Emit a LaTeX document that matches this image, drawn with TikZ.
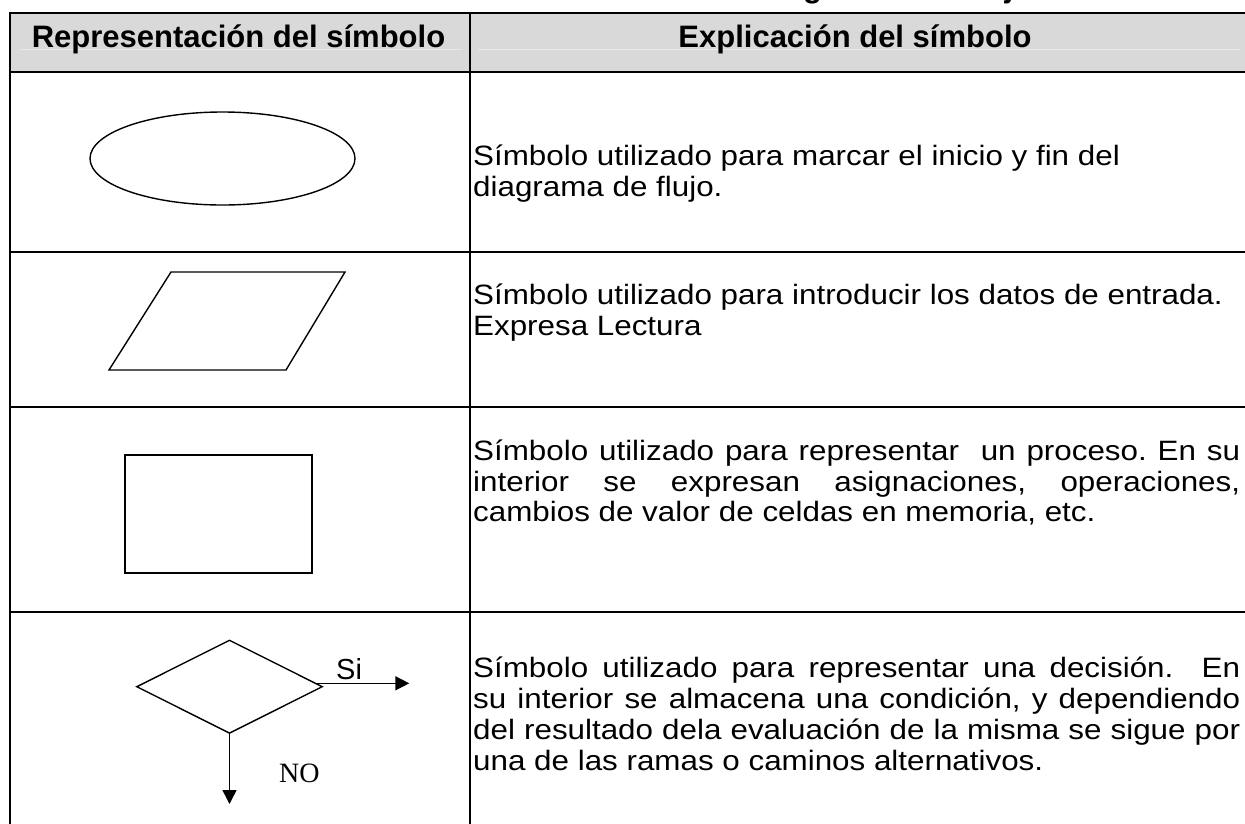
\documentclass[tikz,border=0pt]{standalone}
\usepackage{fontspec}
\setmainfont{Liberation Sans}
\newfontfamily\bodyfont[FakeStretch=1.12]{Liberation Sans}
\newfontfamily\serifnofont{Liberation Serif}
\usetikzlibrary{shapes.geometric,arrows.meta}
\definecolor{hdrgray}{RGB}{217,217,217}
\definecolor{hdrline}{RGB}{232,232,232}
\newlength\jw
\setlength\jw{767pt}
\begin{document}
\frenchspacing
\begin{tikzpicture}[x=1pt,y=-1pt,
  tabline/.style={line width=2.2pt,line cap=rect},
  symb/.style={draw,line width=1.4pt,inner sep=0pt},
  arr/.style={line width=1.4pt,-{Triangle[length=14pt,width=14pt]}},
  body/.style={anchor=north west,inner sep=0pt,align=left,font=\bodyfont\fontsize{28}{30.8}\selectfont},
  head/.style={anchor=base,inner sep=0pt,font=\bfseries\fontsize{31}{36}\selectfont}]
\useasboundingbox (0,0) rectangle (1245,823);
% header background
\fill[hdrgray] (10,13) rectangle (1245,72);
\draw[hdrline,line width=1pt] (20,49) -- (462,49);
\draw[hdrline,line width=1pt] (478,49) -- (1240,49);
% title cut off at the top edge (only descenders visible)
\node[anchor=base west,inner sep=0pt,font=\bfseries\fontsize{31}{36}\selectfont] (title) at (758,-2.5) {diagramas de flujo};
% table rules
\foreach \yy in {13,72,252,407,612} \draw[tabline] (10,\yy) -- (1245,\yy);
\draw[tabline] (10,13) -- (10,823);
\draw[tabline] (470,13) -- (470,823);
% headers
\node[head] (h1) at (238.5,47) {Representación del símbolo};
\node[head] (h2) at (855,47) {Explicación del símbolo};
% symbols
\node[symb,ellipse,minimum width=265pt,minimum height=93pt] (term) at (222.5,158.5) {};
\draw[symb] (171,272) -- (345,272) -- (286,370) -- (109,370) -- cycle;
\node[symb,rectangle,minimum width=187pt,minimum height=118pt] (proc) at (218.5,514) {};
\node[symb,diamond,minimum width=186pt,minimum height=93.4pt] (dec) at (229.5,686.7) {};
\coordinate (sitip) at (409.3,683.3);
\coordinate (notip) at (229.5,804);
\draw[arr] ([xshift=-6pt,yshift=3.4pt]dec.east) -- (sitip);
\draw[arr] (dec.south) -- (notip);
\node[anchor=base west,inner sep=0pt,font=\fontsize{29}{33}\selectfont] (si) at (336,679) {Si};
\node[anchor=base west,inner sep=0pt,font=\serifnofont\fontsize{28}{32}\selectfont] (no) at (279,782) {NO};
% explanations
\node[body] (t1) at (473,144) {\rule{0pt}{21pt}Símbolo utilizado para marcar el inicio y fin del\\diagrama de flujo.};
\node[body] (t2) at (473,283) {\rule{0pt}{21pt}Símbolo utilizado para introducir los datos de entrada.\\Expresa Lectura};
\node[body] (t3) at (473,439) {\rule{0pt}{21pt}\makebox[\jw][s]{Símbolo utilizado para representar\ \ un proceso. En su}\\
\makebox[\jw][s]{interior se expresan asignaciones, operaciones,}\\
cambios de valor de celdas en memoria, etc.};
\node[body] (t4) at (473,656.7) {\rule{0pt}{21pt}\makebox[\jw][s]{Símbolo utilizado para representar una decisión.\ \ En}\\
\makebox[\jw][s]{su interior se almacena una condición, y dependiendo}\\
\makebox[\jw][s]{del resultado dela evaluación de la misma se sigue por}\\
una de las ramas o caminos alternativos.};
\end{tikzpicture}
\end{document}
